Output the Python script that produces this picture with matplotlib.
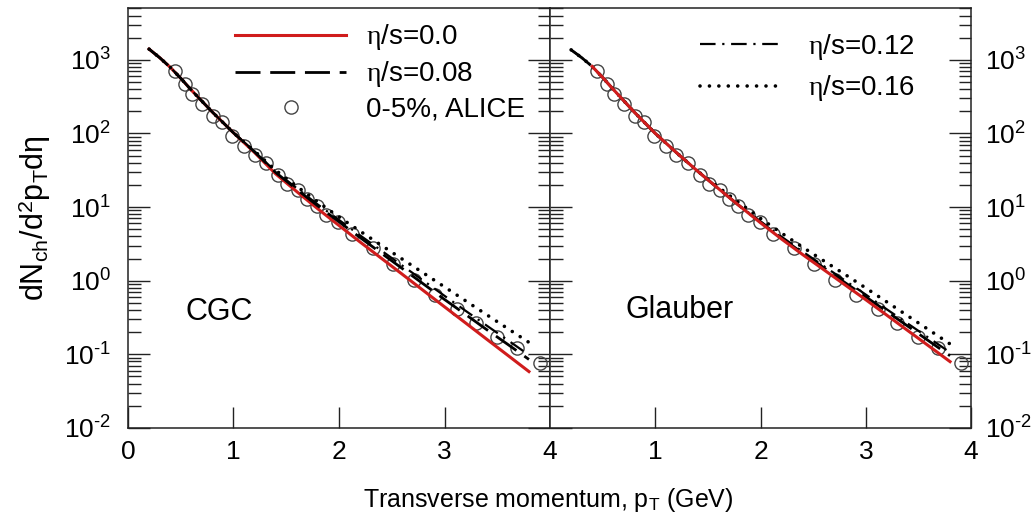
import numpy as np
import matplotlib
matplotlib.use("Agg")
import matplotlib.pyplot as plt
from matplotlib.lines import Line2D
from matplotlib.ticker import FuncFormatter

plt.rcParams["font.family"] = ["Liberation Sans", "DejaVu Sans"]
plt.rcParams["mathtext.fontset"] = "custom"
plt.rcParams["mathtext.rm"] = "Liberation Sans"
plt.rcParams["mathtext.it"] = "Liberation Serif"

# transverse momentum grid of the hydro curves (GeV)
pt = [0.2, 0.3, 0.4, 0.5, 0.6, 0.8, 1.0, 1.2, 1.4, 1.6, 1.8, 2.0, 2.2, 2.4,
      2.6, 2.8, 3.0, 3.2, 3.4, 3.6, 3.8]

# CGC initial conditions
cgc_00 = [1400, 1072, 794, 562, 389, 195, 102, 55.0, 28.2, 16.2, 9.44, 5.62,
          3.35, 2.02, 1.22, 0.733, 0.441, 0.266, 0.160, 0.0966, 0.0582]
cgc_08 = [1400, 1072, 794, 562, 389, 195, 102, 56.2, 29.5, 17.4, 10.35, 6.31,
          3.85, 2.37, 1.46, 0.902, 0.555, 0.347, 0.216, 0.136, 0.0851]
cgc_12 = [1400, 1072, 794, 562, 389, 195, 102, 56.9, 30.2, 18.0, 10.8, 6.68,
          4.12, 2.57, 1.60, 1.00, 0.622, 0.389, 0.245, 0.155, 0.0977]
cgc_16 = [1400, 1072, 794, 562, 389, 195, 102, 57.5, 31.6, 19.1, 11.7, 7.33,
          4.70, 3.03, 1.96, 1.27, 0.822, 0.532, 0.344, 0.223, 0.145]

# Glauber initial conditions
gla_00 = [1368, 1072, 813, 575, 398, 195, 100, 55.0, 30.9, 17.8, 10.35, 6.10,
          3.67, 2.26, 1.41, 0.881, 0.550, 0.339, 0.209, 0.129, 0.0794]
gla_08 = [1368, 1072, 813, 575, 398, 195, 100, 55.0, 30.9, 17.8, 10.35, 6.24,
          3.80, 2.37, 1.50, 0.944, 0.603, 0.380, 0.240, 0.151, 0.0955]
gla_12 = [1368, 1072, 813, 575, 398, 195, 100, 55.0, 30.9, 17.8, 10.35, 6.38,
          3.94, 2.48, 1.58, 1.01, 0.646, 0.407, 0.260, 0.166, 0.106]
gla_16 = [1368, 1072, 813, 575, 398, 195, 100, 55.0, 30.9, 18.6, 11.35, 7.00,
          4.42, 2.85, 1.86, 1.22, 0.794, 0.513, 0.331, 0.214, 0.138]

# ALICE 0-5% charged hadrons
alice_pt = [0.45, 0.54, 0.61, 0.70, 0.81, 0.89, 0.99, 1.10, 1.20, 1.31, 1.42,
            1.51, 1.61, 1.70, 1.79, 1.88, 1.99, 2.12, 2.32, 2.51, 2.71, 2.91,
            3.12, 3.30, 3.50, 3.69, 3.90]
alice_y = [716, 472, 342, 252, 173, 141, 92.7, 67.9, 51.2, 39.4, 27.4, 20.5,
           16.8, 12.8, 10.2, 7.84, 6.24, 4.33, 2.77, 1.68, 1.03, 0.641, 0.410,
           0.270, 0.174, 0.121, 0.077]

ytick_vals = [1e-2, 1e-1, 1e0, 1e1, 1e2, 1e3]
labels = [r"$\eta$/s=0.0", r"$\eta$/s=0.08", r"$\eta$/s=0.12", r"$\eta$/s=0.16"]

red = "#d01c1c"
styles = {
    "00": dict(color=red, lw=2.2, ls="-"),
    "08": dict(color="black", lw=2.0, ls=(0, (9, 3.5))),
    "12": dict(color="black", lw=1.6, ls=(0, (7, 3, 1, 3))),
    "16": dict(color="black", lw=2.6, ls=(0, (0.01, 2.6)), dash_capstyle="round"),
}
circ = dict(ls="none", marker="o", ms=9.5, mfc="none", mec="#444444", mew=1.0)


def pow10(v, pos):
    e = int(round(np.log10(v)))
    sign = "\u2010" if e < 0 else ""
    return r"$\mathregular{10^{%s%d}}$" % (sign, abs(e))


fig = plt.figure(figsize=(10.32, 5.18), dpi=100)
ax1 = fig.add_axes([0.124, 0.174, 0.409, 0.811])
ax2 = fig.add_axes([0.533, 0.174, 0.408, 0.811])

# CGC panel: black curves on top of the red one
ax1.plot(alice_pt, alice_y, zorder=2, **circ)
ax1.plot(pt, cgc_00, zorder=3, **styles["00"])
ax1.plot(pt, cgc_08, zorder=4, **styles["08"])
ax1.plot(pt, cgc_12, zorder=4, **styles["12"])
ax1.plot(pt, cgc_16, zorder=4, **styles["16"])

# Glauber panel: red drawn last
ax2.plot(alice_pt, alice_y, zorder=2, **circ)
ax2.plot(pt, gla_08, zorder=3, **styles["08"])
ax2.plot(pt, gla_12, zorder=3, **styles["12"])
ax2.plot(pt, gla_16, zorder=3, **styles["16"])
ax2.plot(pt[2:], gla_00[2:], zorder=4, **styles["00"])

for ax in (ax1, ax2):
    ax.set_yscale("log")
    ax.set_ylim(1e-2, 5100)
    ax.set_xlim(0, 4)
    ax.tick_params(which="both", direction="in", labelsize=19, width=1.0,
                   color="#222222")
    ax.tick_params(axis="y", which="major", length=16, left=True, right=True)
    ax.tick_params(axis="y", which="minor", length=9, left=True, right=True)
    ax.tick_params(axis="x", which="major", length=15, top=False, pad=9)
    ax.tick_params(axis="x", which="minor", bottom=False, top=False)
    for sp in ax.spines.values():
        sp.set_color("#222222")
        sp.set_linewidth(1.1)
    ax.set_yticks(ytick_vals)
    ax.yaxis.set_major_formatter(FuncFormatter(pow10))

ax1.set_xticks([0, 1, 2, 3, 4])
ax2.set_xticks([1, 2, 3, 4])
ax1.tick_params(axis="y", labelleft=True, labelright=False, pad=12)
ax2.tick_params(axis="y", labelleft=False, labelright=True, pad=10)

ax1.text(0.137, 0.276, "CGC", transform=ax1.transAxes, fontsize=22,
         va="center", ha="left")
ax2.text(0.18, 0.281, "Glauber", transform=ax2.transAxes, fontsize=22,
         va="center", ha="left")

h00 = Line2D([], [], **styles["00"])
h08 = Line2D([], [], **styles["08"])
h12 = Line2D([], [], **styles["12"])
h16 = Line2D([], [], **styles["16"])
hda = Line2D([], [], **circ)

leg1 = ax1.legend([h00, h08, hda], [labels[0], labels[1], "0-5%, ALICE"],
                  loc="upper left", bbox_to_anchor=(0.254, 0.965),
                  frameon=False, fontsize=20, handlelength=4.0,
                  handletextpad=0.72, labelspacing=0.25, borderpad=0,
                  borderaxespad=0)
leg2 = ax2.legend([h12, h16], [labels[2], labels[3]],
                  loc="upper left", bbox_to_anchor=(0.356, 0.942),
                  frameon=False, fontsize=20, handlelength=2.9,
                  handletextpad=1.0, labelspacing=0.4, borderpad=0,
                  borderaxespad=0)

ax1.set_ylabel(r"dN$_{\rm ch}$/d$^{\rm 2}$p$_{\rm T}$d$\mathrm{\eta}$",
               fontsize=22, labelpad=8)
fig.text(0.531, 0.035, r"Transverse momentum, p$_{\rm T}$ (GeV)",
         ha="center", va="center", fontsize=18)

fig.savefig("out.png", dpi=100)
